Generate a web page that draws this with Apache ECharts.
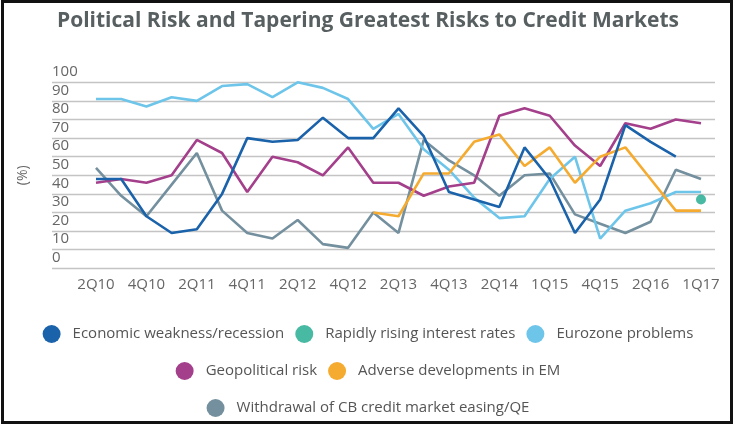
<!DOCTYPE html>
<html>
<head>
<meta charset="utf-8">
<script src="https://cdn.jsdelivr.net/npm/echarts@6/dist/echarts.min.js"></script>
<style>
  html, body { margin: 0; padding: 0; background: #fff; }
  #chart { position: absolute; left: 0; top: 0; width: 736px; height: 426px; }
  #frame { position: absolute; left: 1px; top: 0; width: 732px; height: 424px; box-sizing: border-box; border: 3px solid #111; pointer-events: none; }
</style>
</head>
<body>
<div id="chart"></div>
<div id="frame"></div>
<script>
const categories = ['2Q10','3Q10','4Q10','1Q11','2Q11','3Q11','4Q11','1Q12','2Q12','3Q12','4Q12','1Q13','2Q13','3Q13','4Q13','1Q14','2Q14','4Q14','1Q15','3Q15','4Q15','1Q16','2Q16','3Q16','1Q17'];
const yTicks = [0, 10, 20, 30, 40, 50, 60, 70, 80, 90, 100];

const economicWeakness = [48, 48, 28, 19, 21, 40, 70, 68, 69, 81, 70, 70, 86, 71, 41, 37, 33, 65, 48, 19, 37, 77, 68, 60, null];
const risingRates      = [null, null, null, null, null, null, null, null, null, null, null, null, null, null, null, null, null, null, null, null, null, null, null, null, 37];
const eurozone         = [91, 91, 87, 92, 90, 98, 99, 92, 100, 97, 91, 75, 83, 64, 53, 38, 27, 28, 48, 60, 16, 31, 35, 41, 41];
const geopolitical     = [46, 48, 46, 50, 69, 62, 41, 60, 57, 50, 65, 46, 46, 39, 44, 46, 82, 86, 82, 66, 55, 78, 75, 80, 78];
const adverseEM        = [null, null, null, null, null, null, null, null, null, null, null, 30, 28, 51, 51, 68, 72, 55, 65, 46, 60, 65, 48, 31, 31];
const withdrawalCB     = [54, 39, 28, 45, 62, 31, 19, 16, 26, 13, 11, 30, 19, 69, 58, 50, 39, 50, 51, 29, 24, 19, 25, 53, 48];

const names = {
  econ: 'Economic weakness/recession',
  rates: 'Rapidly rising interest rates',
  euro: 'Eurozone problems',
  geo: 'Geopolitical risk',
  em: 'Adverse developments in EM',
  qe: 'Withdrawal of CB credit market easing/QE'
};
const colors = {
  econ: '#1a62aa',
  rates: '#1aa88c',
  euro: '#6ec5ea',
  geo: '#a43f8b',
  em: '#f5ab30',
  qe: '#74909e'
};

const chart = echarts.init(document.getElementById('chart'), null, { renderer: 'canvas' });
const font = '"Open Sans", "Noto Sans", sans-serif';
const legendBase = {
  left: 'center',
  icon: 'circle',
  itemWidth: 18,
  itemHeight: 18,
  itemGap: 11,
  padding: 0,
  textStyle: { fontFamily: font, fontSize: 15, color: '#555', padding: [0, 0, 0, 7] },
  selectedMode: false
};
function lineSeries(key, data) {
  return {
    name: names[key], type: 'line', data: data,
    xAxisIndex: 1, yAxisIndex: 1,
    symbol: 'none', showSymbol: false,
    lineStyle: { color: colors[key], width: 2.6 },
    itemStyle: { color: colors[key] },
    connectNulls: false, animation: false
  };
}

chart.setOption({
  animation: false,
  title: {
    text: 'Political Risk and Tapering Greatest Risks to Credit Markets',
    left: 'center', top: 11, padding: 0,
    textStyle: { fontFamily: font, fontSize: 21, fontWeight: 'bold', color: '#575f61' }
  },
  legend: [
    Object.assign({}, legendBase, { top: 325, data: [names.econ, names.rates, names.euro] }),
    Object.assign({}, legendBase, { top: 362, data: [names.geo, names.em] }),
    Object.assign({}, legendBase, { top: 399, data: [names.qe] })
  ],
  grid: [
    { left: 52, right: 21, top: 82.3, bottom: 157.7 },
    { left: 96, right: 35, top: 82.3, bottom: 157.7 }
  ],
  xAxis: [
    { type: 'category', gridIndex: 0, data: categories, show: false },
    {
      type: 'category', gridIndex: 1, data: categories, boundaryGap: false,
      axisLine: { show: false }, axisTick: { show: false },
      axisLabel: { interval: 1, margin: 9, fontFamily: font, fontSize: 15, color: '#666' }
    }
  ],
  yAxis: [
    {
      type: 'value', gridIndex: 0, min: yTicks[0], max: yTicks[yTicks.length - 1], interval: 10,
      axisLine: { show: false }, axisTick: { show: false },
      splitLine: { show: true, lineStyle: { color: '#c4c4c4', width: 1.3 } },
      axisLabel: { inside: true, margin: 0, verticalAlign: 'bottom', padding: [0, 0, 3, 0], fontFamily: font, fontSize: 15, color: '#666' },
      name: '(%)', nameLocation: 'middle', nameRotate: 90, nameGap: 22,
      nameTextStyle: { fontFamily: font, fontSize: 14, color: '#666' }
    },
    { type: 'value', gridIndex: 1, min: 0, max: 100, show: false }
  ],
  series: [
    lineSeries('qe', withdrawalCB),
    lineSeries('euro', eurozone),
    lineSeries('geo', geopolitical),
    lineSeries('em', adverseEM),
    lineSeries('econ', economicWeakness),
    {
      name: names.rates, type: 'scatter', data: risingRates,
      xAxisIndex: 1, yAxisIndex: 1, symbol: 'circle', symbolSize: 10,
      itemStyle: { color: colors.rates }, animation: false
    }
  ]
});
</script>
</body>
</html>
